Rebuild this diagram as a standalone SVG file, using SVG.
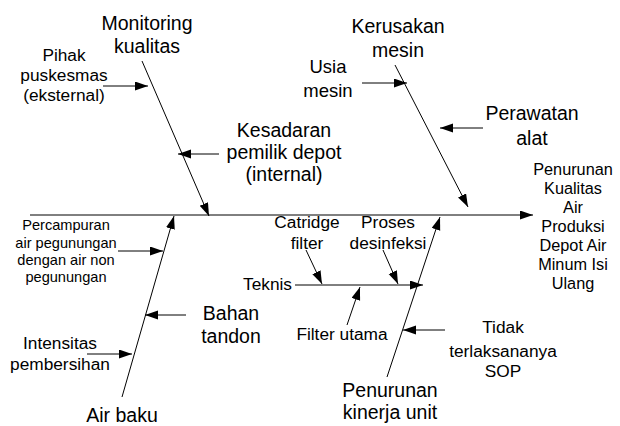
<svg xmlns="http://www.w3.org/2000/svg" width="620" height="426" viewBox="0 0 620 426">
<style>
text{font-family:"Liberation Sans",Arial,sans-serif;fill:#000;text-anchor:middle}
.l{font-size:19.5px}
.m{font-size:17.3px}
.s{font-size:14.6px}
.r{font-size:16.3px}
.c{stroke:#000;stroke-width:1;fill:none;marker-end:url(#ah)}
</style>
<defs>
<marker id="ah" markerUnits="userSpaceOnUse" markerWidth="14" markerHeight="10" refX="13" refY="4.5" orient="auto">
<path d="M0,0 L13,4.5 L0,9 z" fill="#000"/>
</marker>
<clipPath id="rc"><rect x="500" y="150" width="120" height="148"/></clipPath>
</defs>
<g id="connectors">
<line class="c" x1="30" y1="215" x2="533" y2="215"/>
<line class="c" x1="142" y1="61" x2="209" y2="216"/>
<line class="c" x1="103" y1="86" x2="148" y2="86"/>
<line class="c" x1="219" y1="154" x2="178" y2="154"/>
<line class="c" x1="395" y1="65" x2="468" y2="207"/>
<line class="c" x1="362" y1="83" x2="407" y2="83"/>
<line class="c" x1="483" y1="128" x2="440" y2="128"/>
<line class="c" x1="122" y1="397" x2="174" y2="216"/>
<line class="c" x1="118" y1="251" x2="163" y2="251"/>
<line class="c" x1="186" y1="315" x2="145" y2="315"/>
<line class="c" x1="87" y1="354" x2="132" y2="354"/>
<line class="c" x1="387" y1="377" x2="440" y2="217"/>
<line class="c" x1="445" y1="330" x2="403" y2="330"/>
<line class="c" x1="295" y1="285" x2="423" y2="285"/>
<line class="c" x1="306" y1="250" x2="322" y2="284"/>
<line class="c" x1="383" y1="250" x2="398" y2="284"/>
<line class="c" x1="347" y1="325" x2="360" y2="287"/>
</g>
<g id="monitoring"><text class="l" x="147" y="30">Monitoring<tspan x="147" y="53">kualitas</tspan></text></g>
<g id="pihak"><text class="m" x="64" y="61">Pihak<tspan x="64" y="81">puskesmas</tspan><tspan x="64" y="101">(eksternal)</tspan></text></g>
<g id="kesadaran"><text class="l" x="284" y="137">Kesadaran<tspan x="284" y="159">pemilik depot</tspan><tspan x="284" y="181">(internal)</tspan></text></g>
<g id="kerusakan"><text class="l" x="398" y="33">Kerusakan<tspan x="398" y="57">mesin</tspan></text></g>
<g id="usia"><text class="l" x="328" y="73" style="font-size:18.5px">Usia<tspan x="328" y="97">mesin</tspan></text></g>
<g id="perawatan"><text class="l" x="532" y="120">Perawatan<tspan x="532" y="145">alat</tspan></text></g>
<g id="effect"><text class="r" x="573" y="175" clip-path="url(#rc)">Penurunan<tspan x="573" y="194">Kualitas</tspan><tspan x="573" y="213">Air</tspan><tspan x="573" y="232">Produksi</tspan><tspan x="573" y="251">Depot Air</tspan><tspan x="573" y="270">Minum Isi</tspan><tspan x="573" y="289">Ulang</tspan></text></g>
<g id="percampuran"><text class="s" x="66" y="230">Percampuran<tspan x="66" y="248">air pegunungan</tspan><tspan x="66" y="265">dengan air non</tspan><tspan x="66" y="282">pegunungan</tspan></text></g>
<g id="bahan"><text class="l" x="231" y="320">Bahan<tspan x="231" y="343">tandon</tspan></text></g>
<g id="intensitas"><text class="m" x="60" y="349">Intensitas<tspan x="60" y="370">pembersihan</tspan></text></g>
<g id="airbaku"><text class="l" x="122" y="422">Air baku</text></g>
<g id="teknis"><text class="m" x="292" y="290" style="text-anchor:end">Teknis</text></g>
<g id="catridge"><text class="m" x="307" y="228">Catridge<tspan x="307" y="249">filter</tspan></text></g>
<g id="proses"><text class="m" x="388" y="228">Proses<tspan x="388" y="249">desinfeksi</tspan></text></g>
<g id="filterutama"><text class="m" x="342" y="340">Filter utama</text></g>
<g id="tidak"><text class="m" x="503" y="333">Tidak<tspan x="503" y="357">terlaksananya</tspan><tspan x="503" y="377">SOP</tspan></text></g>
<g id="kinerja"><text class="l" x="390" y="397">Penurunan<tspan x="390" y="419">kinerja unit</tspan></text></g>
</svg>
